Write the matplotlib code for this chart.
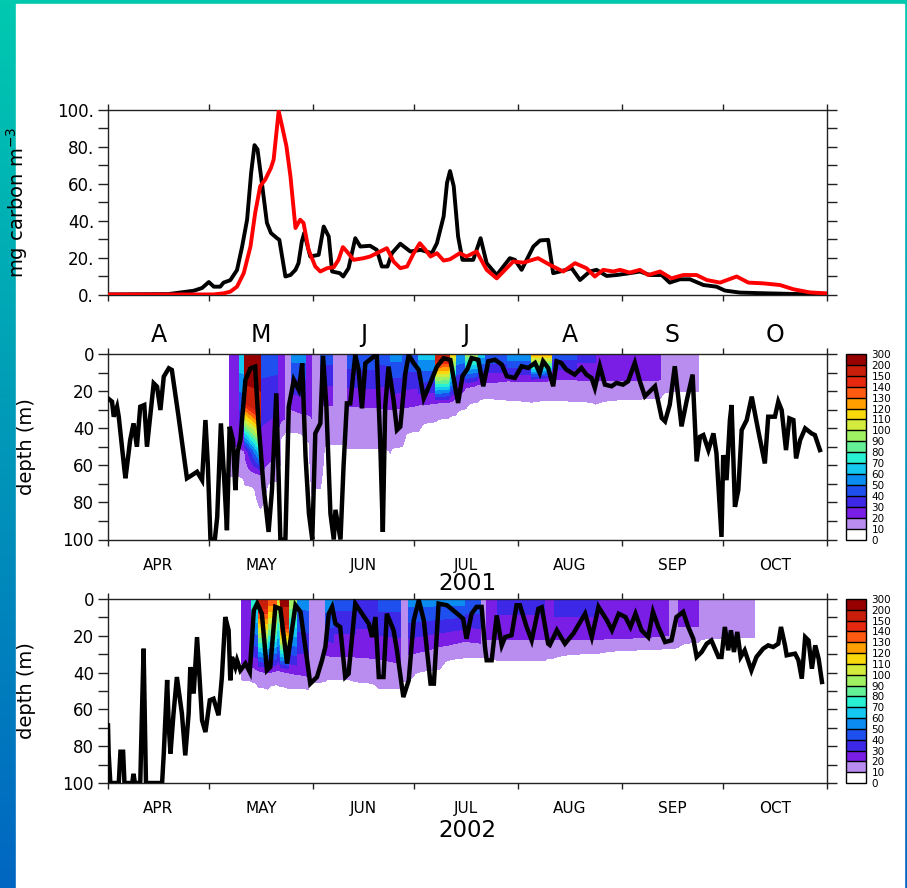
import numpy as np
import matplotlib
matplotlib.use("Agg")
import matplotlib.pyplot as plt
from matplotlib.patches import Rectangle

# time axis: days since 1 April
month_edges = [0, 30, 61, 91, 122, 153, 183, 214]
month_mid = [15, 45.5, 76, 106.5, 137.5, 168, 198.5]
month_letters = ["A", "M", "J", "J", "A", "S", "O"]
month_names = ["APR", "MAY", "JUN", "JUL", "AUG", "SEP", "OCT"]

# colour scale of the depth sections
levels = [0, 10, 20, 30, 40, 50, 60, 70, 80, 90, 100, 110, 120, 130, 140, 150, 200, 300]
level_colors = ["#ffffff", "#b98cf0", "#7a1ee6", "#3c28e6", "#1e50f0", "#0a8cf0",
                "#14c8f0", "#28f0d2", "#64f096", "#a0f064", "#d2eb3c", "#f8d80a",
                "#ffa000", "#ff5a10", "#e62810", "#c81e0a", "#960000"]

# top panel: carbon (day, value)
carbon_black = [(0, 0.3), (18, 0.5), (25.5, 2.3), (28, 3.8), (30, 7), (31.5, 4.5), (33.4, 4.5),
                (34.4, 6.7), (36.4, 8), (38.4, 13.5), (39.9, 26), (41.4, 40.7), (42.6, 66), (43.6, 81),
                (44.5, 78.7), (45.8, 60.6), (47.3, 39), (48.5, 33.5), (50.3, 30.7), (51, 29.8),
                (52.8, 10), (54.3, 10.8), (55.8, 13.6), (56.7, 17.2), (57.7, 29), (58.4, 33.5),
                (60.2, 20.8), (62.7, 21.7), (64.2, 37), (65.7, 31.6), (66.7, 12.7), (69, 11.8),
                (70, 10), (71.6, 14.5), (73.6, 30.7), (75.1, 26.2), (78, 26.6), (80, 24.4),
                (81.5, 15.4), (83.2, 15.4), (84.5, 22.6), (87, 27.7), (90, 23.5), (93, 24.4),
                (96.4, 22.6), (97.9, 28), (99.9, 42.5), (100.9, 60.6), (101.8, 67), (102.9, 58.8),
                (104.2, 31.6), (105.5, 19), (108.7, 19), (110.9, 30.7), (112.7, 17.2), (115.7, 10.8),
                (119.6, 19.9), (121.1, 19), (123.1, 13.6), (126.6, 26.2), (128.6, 29.5), (131, 29.8),
                (132.5, 11.8), (134.5, 12.7), (138, 14.5), (140.5, 8.1), (143.4, 12.7), (145.4, 13.6),
                (148.4, 10.3), (151.4, 10.8), (155.3, 11.8), (158.3, 12.7), (161.3, 10.8),
                (164.8, 10.8), (167.2, 6.7), (170.2, 8.5), (173.2, 8.5), (177.2, 5.4), (181.1, 4.5),
                (183.6, 2.4), (188.1, 1.3), (196, 0.9), (205.9, 0.5), (214, 0.4)]
carbon_red = [(0, 0.3), (31.4, 0.3), (34.4, 0.9), (36.4, 1.8), (38.4, 4.5), (40.4, 11.8),
              (42.4, 26.2), (43.8, 44.3), (45.3, 58.8), (46.8, 62.4), (48.5, 68.7), (49.3, 73.2),
              (50.8, 99.5), (51.8, 91.3), (53.1, 80.5), (54.3, 64.2), (55.8, 36.2), (57.2, 40.7),
              (58.2, 38.9), (59.7, 24.4), (61.7, 15.4), (63.2, 12.7), (65.2, 14.5), (67.2, 15),
              (68.6, 19), (69.9, 25.9), (71.1, 23.5), (73.1, 19), (76.1, 19.9), (78, 20.8),
              (80, 22.6), (83, 25.3), (85, 18.1), (87, 14.5), (89, 15.4), (91, 22.6), (92.8, 28),
              (94.5, 24.4), (96, 20.8), (97.9, 22.6), (99.9, 18.6), (101.8, 19.3), (104.7, 22.6),
              (106.7, 20.8), (109.7, 23.5), (112.7, 13.6), (115.7, 9), (120.6, 18.1), (123.6, 17.5),
              (128, 19.9), (131.5, 16.3), (135.5, 12.7), (139, 17.2), (142.4, 14.5), (144.9, 10),
              (147.4, 13.6), (150.4, 12.7), (152.4, 13.6), (155.3, 12.1), (158.3, 13.6),
              (160.8, 10.8), (164.3, 12.7), (167.7, 9), (171.2, 10.8), (175.2, 10.8), (178.2, 8.1),
              (182.2, 6.7), (187.1, 10), (190.6, 6.7), (195, 6.3), (200, 5.4), (204, 3.1),
              (208.9, 1.4), (213.8, 0.9)]

# mixed layer depth (day, depth m)
mld_2001 = [(0, 23.9), (1.2, 25.7), (1.7, 33.8), (2.7, 28.4), (3.2, 33.8), (4.9, 62.6), (5.2, 67),
            (6.6, 46.4), (7.6, 37.4), (8.6, 50), (9.6, 28.4), (10.8, 27.5), (11.6, 50), (13.6, 15.8),
            (14.6, 17.6), (15.6, 30.2), (16.6, 12.2), (18.1, 7.7), (19, 8.6), (21, 33.8), (23.5, 67),
            (25, 65.3), (26.5, 63.5), (28, 68), (29, 35.6), (29.7, 59), (30.5, 100), (31.8, 100),
            (32.5, 88), (33.6, 37.4), (34.6, 68), (35.4, 95), (36.2, 39.2), (37.2, 46.4),
            (37.9, 73.4), (38.6, 52.7), (39.4, 46.4), (40.9, 14), (42.4, 7.7), (43.8, 6.8),
            (44.8, 37.4), (46.3, 71.6), (47.8, 95.9), (48.8, 73.4), (50.1, 21.2), (51.3, 100),
            (52.8, 100), (53.8, 28.4), (55.3, 14), (56.8, 19.4), (57.8, 5), (58.8, 55.4),
            (59.8, 86), (60.8, 100), (61.7, 42.8), (63.2, 37.4), (64, 1), (65, 28.4), (66.2, 86),
            (67.2, 100), (67.7, 84), (69.2, 100), (70.1, 60.8), (71.1, 26.6), (72.1, 26.6),
            (73.6, 0.5), (74.6, 8.6), (75.6, 29.3), (76.6, 5), (79.1, 1.4), (80, 0.5), (81, 46.4),
            (81.8, 95.9), (82.5, 28.4), (83.5, 6.8), (85, 24.8), (86, 41), (87, 39.2), (88.5, 10.4),
            (89.5, 0.5), (91, 5), (92.5, 8.6), (94, 23.9), (95.9, 15.8), (97.9, 6.8), (99.9, 2.3),
            (101.9, 3.2), (104.2, 26.4), (105.5, 12), (107, 8), (108.2, 2.2), (110.2, 3.1),
            (111.7, 17.4), (113.2, 3.9), (115.2, 3.1), (117.2, 5.7), (118.7, 12), (121.1, 12.9),
            (123.1, 6.6), (125.1, 7.5), (127.1, 4.8), (128.5, 10.2), (129.5, 3.9), (131, 7.5),
            (132.5, 17.4), (133.5, 3.9), (134.9, 4.8), (136.4, 8.4), (138.9, 11.1), (140.9, 7.5),
            (142.4, 11.1), (143.9, 12.9), (144.9, 18.3), (146.4, 6.6), (147.9, 16.5),
            (149.9, 17.4), (151.3, 15.6), (153.3, 16.5), (154.8, 14.7), (156.8, 4.8),
            (158.3, 14.7), (159.8, 22.8), (161.8, 19.2), (162.8, 17.4), (164.8, 34.5),
            (165.8, 36.3), (167.2, 27.3), (168.7, 6.6), (170.7, 39), (172.2, 25.5), (174, 11.1),
            (175.2, 57.9), (176.2, 44.6), (177.2, 43.7), (178.7, 51.8), (180.2, 42.8),
            (181.1, 53.6), (182.6, 98.6), (183.1, 54.5), (184.1, 68), (185.1, 35.6), (185.6, 27.5),
            (186.6, 82.4), (187.6, 73.4), (188.6, 41), (190.1, 35.6), (191.6, 23), (193.5, 41),
            (195.5, 59), (196.5, 33.8), (198.5, 33.8), (199.5, 25.7), (200.5, 30.2), (201.8, 51.8),
            (202.8, 34.7), (204, 35.6), (204.8, 56.3), (206, 46.4), (207.5, 40.1), (209.4, 42.8),
            (210.4, 43.7), (211.9, 51.8)]
mld_2002 = [(0, 68.7), (0.2, 84), (0.7, 100), (3.2, 100), (3.7, 83), (4.5, 83), (4.9, 100),
            (7.2, 100), (7.6, 95), (8, 100), (9.6, 100), (10.1, 62), (10.6, 27), (11.3, 100),
            (16.1, 100), (16.6, 84), (17.6, 44), (18.1, 69.6), (18.6, 84), (19.5, 62.3),
            (20.5, 42.4), (22, 62.3), (23, 85), (24, 62.3), (24.5, 37), (25.5, 51.4), (26.5, 20.7),
            (27.3, 44.2), (28, 66), (29, 72.3), (30.3, 55), (31.4, 54.2), (32.9, 63.2),
            (33.9, 42.4), (34.9, 9.8), (35.9, 17), (36.4, 44.2), (36.9, 31.5), (37.9, 37),
            (38.4, 33.3), (39.4, 38.8), (40.9, 35.1), (42.2, 39.7), (43.4, 6.2), (44.4, 2.5),
            (45.8, 8), (47.3, 38.8), (48.3, 37), (49.8, 4.3), (51.3, 5.3), (53.3, 35.1),
            (55.8, 3.4), (57.3, 7), (60.2, 46), (62.2, 42.4), (63.7, 33.3), (64.7, 26), (65.7, 8),
            (66.7, 4.3), (67.7, 13.4), (69.1, 15.2), (70.6, 42.4), (71.6, 40.6), (73.6, 2.5),
            (75.6, 8), (77.6, 13.4), (78.6, 20.7), (79.6, 9.8), (80.6, 42.4), (82, 42.4), (83, 8),
            (85, 17), (86, 27.9), (87.9, 53.3), (89.5, 44.2), (91, 11.6), (92.5, 0.7), (94, 11.6),
            (96, 46), (97, 46), (98.4, 2.5), (100.9, 3.4), (103.3, 7), (105.7, 10.7),
            (106.7, 21.6), (108.2, 8), (109.7, 4.3), (111.2, 4.3), (112.2, 26.1), (112.7, 33.3),
            (114.2, 33.3), (115.7, 8.9), (117.2, 25.2), (118.2, 20.7), (120.1, 19.7),
            (121.6, 3.4), (122.6, 3.4), (124.6, 15.2), (126.1, 22.5), (128.1, 5.3), (129.1, 4.5),
            (131, 24.3), (131.5, 25), (133.6, 17), (136, 24.3), (138.5, 18.8), (142, 8),
            (144, 20.7), (146, 4.3), (148.5, 11.6), (150, 17), (152, 8), (154, 9.8), (155.5, 15.2),
            (157, 8), (158.8, 17), (160.8, 20.7), (162.2, 7), (163.8, 15.2), (165.8, 23.4),
            (167.7, 22.5), (169.2, 9.8), (171.2, 7), (172.7, 15.2), (174.2, 21.6), (175.2, 31.5),
            (176.7, 28.8), (178.2, 24.3), (179.6, 22.5), (181.7, 31.5), (182.6, 31.5),
            (183.6, 15.2), (184.6, 27.9), (185.4, 17), (186.3, 28.8), (187.3, 17.9), (188.3, 31.5),
            (189.5, 27.9), (191.5, 38.8), (193, 31.5), (195, 27), (196.5, 25.2), (198, 26.1),
            (199.5, 24.3), (200.3, 15.2), (201.5, 25.2), (202, 30.6), (204.5, 29.7), (205.5, 33.3),
            (206.5, 43.3), (207.5, 20.7), (208.5, 22.5), (209.5, 37.9), (210.5, 25.2),
            (211.5, 32.4), (212.5, 45.1)]

# depth sections: (start day, end day, surface value, depth of 20 contour, depth of 10 contour)
section_2001 = [(36.3, 39.0, 25, 50, 66), (39.0, 40.7, 70, 50, 66), (40.7, 45.4, 280, 55, 75),
                (45.4, 50.4, 45, 75, 92), (50.4, 52.5, 25, 35, 45), (52.5, 54.7, 15, None, 42),
                (54.7, 58.7, 55, 30, 42), (58.7, 60.7, 25, 35, 50), (60.7, 63.2, 15, None, 100),
                (63.2, 66.8, 45, 28, 45), (66.8, 71.3, 15, None, 52), (71.3, 80.0, 48, 28, 50),
                (80.0, 84.0, 45, 30, 52), (84.0, 87.5, 55, 30, 55), (87.5, 92.5, 50, 28, 45),
                (92.5, 97.5, 65, 27, 38), (97.5, 101.5, 170, 26, 35), (101.5, 103.5, 115, 26, 34),
                (103.5, 106.5, 60, 20, 32), (106.5, 110.0, 95, 16, 27), (110.0, 112.0, 65, 17, 25),
                (112.0, 119.0, 50, 14, 23), (119.0, 126.0, 60, 15, 27), (126.0, 132.0, 125, 15, 25),
                (132.0, 139.5, 45, 13, 25), (139.5, 145.0, 35, 15, 26), (145.0, 164.5, 28, 14, 28),
                (164.5, 175.7, 15, None, 20)]
section_2002 = [(39.8, 42.8, 25, 35, 44), (42.8, 44.8, 80, 38, 46), (44.8, 47.5, 170, 40, 50),
                (47.5, 50.2, 140, 40, 48), (50.2, 51.2, 110, 38, 45), (51.2, 53.7, 220, 40, 50),
                (53.7, 56.2, 100, 40, 47), (56.2, 59.6, 55, 42, 50), (59.6, 64.6, 15, None, 48),
                (64.6, 67.1, 60, 30, 42), (67.1, 73.6, 45, 33, 45), (73.6, 80.5, 40, 30, 45),
                (80.5, 87.0, 45, 35, 52), (87.0, 89.5, 15, None, 45), (89.5, 98.3, 55, 30, 44),
                (98.3, 106.0, 55, 22, 33), (106.0, 111.0, 50, 24, 31), (111.0, 112.7, 18, None, 32),
                (112.7, 116.0, 28, 22, 33), (116.0, 130.0, 36, 22, 34), (130.0, 133.0, 25, 22, 33),
                (133.0, 146.0, 38, 22, 31), (146.0, 161.0, 28, 22, 28), (161.0, 166.8, 28, 20, 27),
                (166.8, 169.7, 15, None, 27), (169.7, 175.7, 28, 15, 26), (175.7, 192.5, 15, None, 21)]


def edge_depth(a, b):
    # depth shared by two neighbouring columns, so lower contours run on smoothly
    vals = [v for v in (a, b) if v is not None]
    return sum(vals) / len(vals) if vals else None


def build_section(segments):
    z = np.arange(0, 101, 0.5)
    t, cols = [], []
    n = len(segments)
    for i, (t0, t1, s, d20, d10) in enumerate(segments):
        prev = segments[i - 1] if i > 0 else segments[i]
        nxt = segments[i + 1] if i < n - 1 else segments[i]
        for tt, nb in ((t0 + 0.01, prev), (t1 - 0.01, nxt)):
            e10 = edge_depth(d10, nb[4])
            if d20 is None:
                prof = np.interp(z, [0, e10, e10 + 2], [s, 10, 0])
            else:
                e20 = edge_depth(d20, nb[3] if nb[2] >= 20 else None)
                e20 = min(e20, e10 - 1)
                prof = np.interp(z, [0, e20, e10, e10 + 2], [s, 20, 10, 0])
            t.append(tt)
            cols.append(prof)
    return np.array(t), z, np.array(cols).T


W, H = 907, 888
fig = plt.figure(figsize=(W / 100, H / 100), dpi=100)

# gradient frame
bg = fig.add_axes([0, 0, 1, 1], zorder=-5)
grad = np.linspace(0, 1, 256)[:, None, None]
top_c = np.array([0.0, 0.79, 0.69])
bot_c = np.array([0.0, 0.40, 0.76])
img = top_c * (1 - grad) + bot_c * grad
bg.imshow(np.repeat(img, 2, axis=1), extent=[0, 1, 0, 1], aspect="auto", origin="upper")
bg.add_patch(Rectangle((16 / W, 0), (904 - 16) / W, 1 - 4 / H, color="white"))
bg.set_xlim(0, 1)
bg.set_ylim(0, 1)
bg.axis("off")

spine_col = "#222222"


def style_axes(ax):
    for sp in ax.spines.values():
        sp.set_color(spine_col)
        sp.set_linewidth(1.0)
    ax.set_xlim(0, 214)
    ax.set_xticks(month_edges)
    ax.set_xticklabels([])
    ax.set_xticks(month_mid, minor=True)
    ax.tick_params(axis="x", which="major", direction="out", length=4, width=1,
                   top=True, bottom=True, color=spine_col)
    ax.tick_params(axis="y", which="both", direction="out", length=7, width=1,
                   left=True, right=True, labelright=False, color=spine_col, labelsize=12, pad=3)


# ---- top panel
ax1 = fig.add_axes([108 / W, 1 - 295 / H, 719 / W, 185 / H])
style_axes(ax1)
ax1.plot(*zip(*carbon_black), color="black", lw=2.8, zorder=3)
ax1.plot(*zip(*carbon_red), color="#ff0000", lw=2.8, zorder=4)
ax1.set_ylim(0, 100)
ax1.set_yticks(range(0, 101, 20))
ax1.set_yticklabels([f"{v}." for v in range(0, 101, 20)])
ax1.set_yticks(range(10, 100, 20), minor=True)
ax1.set_xticklabels(month_letters, minor=True)
ax1.tick_params(axis="x", which="minor", length=0, labelsize=17, pad=20, top=False)
ax1.set_ylabel("mg carbon m$^{-3}$", fontsize=14)
ax1.yaxis.set_label_coords(-0.108, 0.5)

# ---- depth sections
panels = [(section_2001, mld_2001, 354, 539.5, "2001", 583),
          (section_2002, mld_2002, 599, 783, "2002", 830)]
for section, mld, ytop, ybot, year, yyear in panels:
    ax = fig.add_axes([108 / W, 1 - ybot / H, 719 / W, (ybot - ytop) / H])
    style_axes(ax)
    t, z, field = build_section(section)
    cs = ax.contourf(t, z, field, levels=levels, colors=level_colors, zorder=1)
    ax.plot(*zip(*mld), color="black", lw=3.2, zorder=3, solid_joinstyle="miter")
    ax.set_ylim(100, 0)
    ax.set_yticks(range(0, 101, 20))
    ax.set_yticks(range(10, 100, 20), minor=True)
    ax.set_xticklabels(month_names, minor=True)
    ax.tick_params(axis="x", which="minor", length=0, labelsize=11, pad=13, top=False)
    ax.set_ylabel("depth (m)", fontsize=14)
    ax.yaxis.set_label_coords(-0.1, 0.5)
    fig.text(467 / W, 1 - yyear / H, year, ha="center", va="center", fontsize=16.5)

    cax = fig.add_axes([846 / W, 1 - ybot / H, 20 / W, (ybot - ytop) / H])
    cb = fig.colorbar(cs, cax=cax, ticks=levels, drawedges=True)
    cb.outline.set_edgecolor("black")
    cb.outline.set_linewidth(1.0)
    cb.dividers.set_color("black")
    cb.dividers.set_linewidth(1.0)
    cax.tick_params(length=0, labelsize=7.5, pad=4)
    cax.set_yticklabels([str(v) for v in levels])

fig.savefig("out.png", dpi=100)
